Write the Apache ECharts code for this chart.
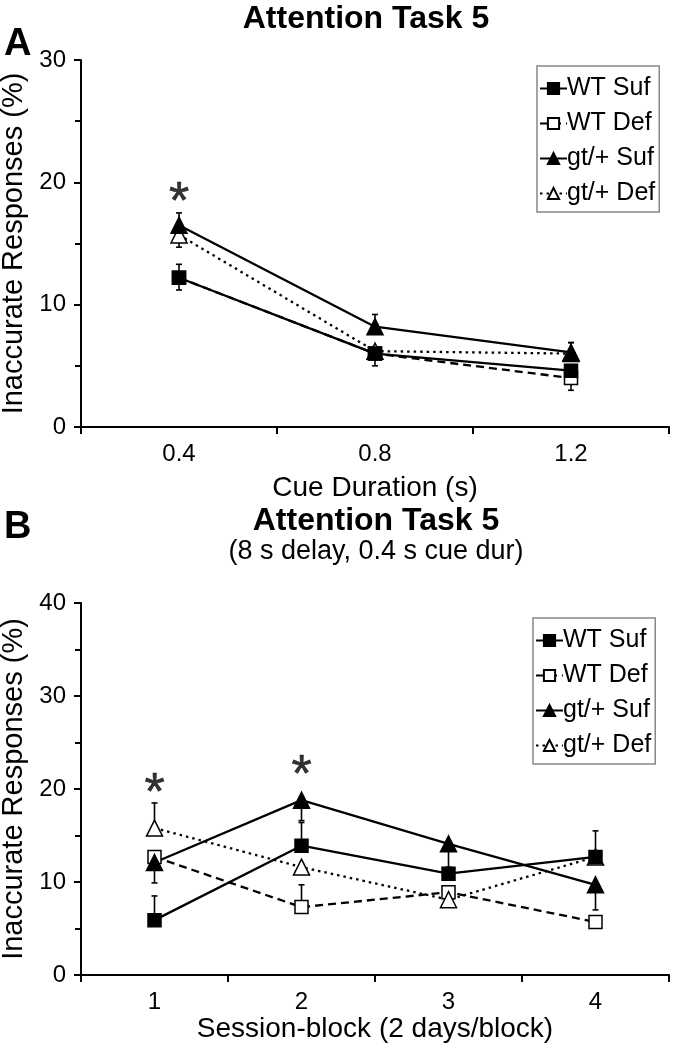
<!DOCTYPE html>
<html><head><meta charset="utf-8">
<script src="https://cdn.jsdelivr.net/npm/echarts@6/dist/echarts.min.js"></script>
<style>html,body{margin:0;padding:0;background:#fff}#c{width:673px;height:1050px}</style>
</head><body><div id="c"></div>
<script>
// ---------- data ----------
const catsA = ['0.4', '0.8', '1.2'];
const catsB = ['1', '2', '3', '4'];
const seriesNames = ['WT Suf', 'WT Def', 'gt/+ Suf', 'gt/+ Def'];

// Panel A values (%)
const aWTSuf = [12.2, 6.0, 4.6];
const aWTDef = [12.2, 6.0, 4.0];
const aGtSuf = [16.5, 8.2, 6.1];
const aGtDef = [15.7, 6.2, 6.0];
// Panel A error bars (upper, lower)
const aWTSufHi = [0, 0, 0],       aWTSufLo = [0, 0, 0];
const aWTDefHi = [1.1, 0, 0],     aWTDefLo = [1.0, 1.0, 1.0];
const aGtSufHi = [1.0, 1.0, 0.8], aGtSufLo = [0, 0, 0];
const aGtDefHi = [0, 0, 0.9],     aGtDefLo = [1.0, 0, 0];

// Panel B values (%)
const bWTSuf = [5.9, 13.9, 10.9, 12.7];
const bWTDef = [12.7, 7.3, 8.9, 5.7];
const bGtSuf = [12.1, 18.8, 14.1, 9.7];
const bGtDef = [15.8, 11.6, 8.1, 12.7];
// Panel B error bars (upper, lower)
const bWTSufHi = [2.6, 2.5, 0, 2.8], bWTSufLo = [0, 0, 0, 0];
const bWTDefHi = [0, 2.4, 0, 0],     bWTDefLo = [0, 0, 0, 0];
const bGtSufHi = [0, 0, 0, 0],       bGtSufLo = [2.2, 2.2, 2.5, 2.7];
const bGtDefHi = [2.7, 0, 0, 0],     bGtDefLo = [0, 0, 0, 0];

// significance markers [categoryIndex, y]
const starsA = [[0, 19.2]];
const starsB = [[0, 20.7], [1, 22.6]];

const yTicksA = [0, 30, 10];
const yTicksB = [0, 40, 10];

// ---------- styling ----------
const FONT = '"Liberation Sans", Arial, sans-serif';
const styles = {
  'WT Suf':   {symbol: 'rect', size: 13, fill: '#000', type: 'solid'},
  'WT Def':   {symbol: 'rect', size: 13, fill: '#fff', type: [8, 5]},
  'gt/+ Suf': {symbol: 'triangle', size: 16, fill: '#000', type: 'solid'},
  'gt/+ Def': {symbol: 'triangle', size: 16, fill: '#fff', type: [2.5, 4]}
};

function lineSeries(name, vals, axis) {
  const s = styles[name];
  return {
    name: name, type: 'line', xAxisIndex: axis, yAxisIndex: axis,
    data: vals, symbol: s.symbol, symbolSize: s.size, showAllSymbol: true,
    lineStyle: {color: '#000', width: 2.3, type: s.type},
    itemStyle: {color: s.fill, borderColor: '#000', borderWidth: 1.5},
    z: 3, animation: false
  };
}
function errSeries(vals, hi, lo, axis) {
  return {
    name: 'error', type: 'custom', xAxisIndex: axis, yAxisIndex: axis, z: 1,
    data: vals.map((v, i) => [i, v, hi[i], lo[i]]),
    encode: {x: 0, y: 1},
    silent: true, animation: false,
    renderItem: function (params, api) {
      const i = api.value(0), v = api.value(1), h = api.value(2), l = api.value(3);
      const c = api.coord([i, v]);
      const kids = [];
      const st = {stroke: '#000', lineWidth: 1.6};
      if (h > 0) {
        const t = api.coord([i, v + h]);
        kids.push({type: 'line', shape: {x1: c[0], y1: c[1], x2: t[0], y2: t[1]}, style: st});
        kids.push({type: 'line', shape: {x1: t[0] - 3, y1: t[1], x2: t[0] + 3, y2: t[1]}, style: st});
      }
      if (l > 0) {
        const b = api.coord([i, v - l]);
        kids.push({type: 'line', shape: {x1: c[0], y1: c[1], x2: b[0], y2: b[1]}, style: st});
        kids.push({type: 'line', shape: {x1: b[0] - 3, y1: b[1], x2: b[0] + 3, y2: b[1]}, style: st});
      }
      return {type: 'group', children: kids};
    }
  };
}
function starSeries(data, axis) {
  return {
    name: 'star', type: 'scatter', xAxisIndex: axis, yAxisIndex: axis, data: data,
    symbolSize: 1, itemStyle: {color: 'rgba(0,0,0,0)'}, silent: true, z: 4,
    label: {show: true, position: 'inside', formatter: '*', fontSize: 52, color: '#000',
            textBorderColor: '#000', textBorderWidth: 0.6,
            fontFamily: FONT, offset: [0, 12]},
    animation: false
  };
}

const axisText = {color: '#000', fontSize: 24, fontFamily: FONT};
function xAxis(cats, grid, name, nameGap) {
  return {
    type: 'category', gridIndex: grid, data: cats, boundaryGap: true,
    name: name, nameLocation: 'middle', nameGap: nameGap,
    nameTextStyle: {color: '#000', fontSize: 28, fontFamily: FONT},
    axisLine: {lineStyle: {color: '#000', width: 2}},
    axisTick: {show: true, length: 7, lineStyle: {color: '#000', width: 2}},
    axisLabel: Object.assign({margin: 15}, axisText),
    splitLine: {show: false}
  };
}
function yAxis(t, grid) {
  return {
    type: 'value', gridIndex: grid, min: t[0], max: t[1], interval: t[2],
    name: 'Inaccurate Responses (%)', nameLocation: 'middle', nameGap: 44, nameRotate: 90,
    nameTextStyle: {color: '#000', fontSize: 29, fontFamily: FONT},
    axisLine: {show: true, lineStyle: {color: '#000', width: 2}},
    axisTick: {show: true, length: 7, lineStyle: {color: '#000', width: 2}},
    minorTick: {show: true, splitNumber: 2, length: 6, lineStyle: {color: '#000', width: 2}},
    axisLabel: Object.assign({margin: 15}, axisText),
    splitLine: {show: false}
  };
}
function legend(top, left, right) {
  return {
    data: seriesNames, orient: 'vertical', top: top, left: left, width: right - left,
    itemWidth: 27, itemHeight: 14, itemGap: 10,
    textStyle: {color: '#000', fontSize: 25, lineHeight: 25, fontFamily: FONT, padding: [0, 0, 0, -5]},
    borderColor: '#888', borderWidth: 1.5, padding: [10, 4, 6, 2],
    backgroundColor: '#fff', selectedMode: false
  };
}

const series = [];
const A = [aWTSuf, aWTDef, aGtSuf, aGtDef];
const AHi = [aWTSufHi, aWTDefHi, aGtSufHi, aGtDefHi];
const ALo = [aWTSufLo, aWTDefLo, aGtSufLo, aGtDefLo];
const B = [bWTSuf, bWTDef, bGtSuf, bGtDef];
const BHi = [bWTSufHi, bWTDefHi, bGtSufHi, bGtDefHi];
const BLo = [bWTSufLo, bWTDefLo, bGtSufLo, bGtDefLo];
seriesNames.forEach((n, k) => {
  series.push(errSeries(A[k], AHi[k], ALo[k], 0));
  series.push(errSeries(B[k], BHi[k], BLo[k], 1));
});
[1, 3, 0, 2].forEach(k => {
  series.push(lineSeries(seriesNames[k], A[k], 0));
  series.push(lineSeries(seriesNames[k], B[k], 1));
});
series.push(starSeries(starsA, 0));
series.push(starSeries(starsB, 1));

const chart = echarts.init(document.getElementById('c'), null, {renderer: 'canvas'});
chart.setOption({
  backgroundColor: '#fff',
  animation: false,
  grid: [
    {left: 81, top: 60, width: 588, height: 367, containLabel: false, outerBoundsMode: 'none'},
    {left: 81, top: 603, width: 588, height: 372, containLabel: false, outerBoundsMode: 'none'}
  ],
  xAxis: [xAxis(catsA, 0, 'Cue Duration (s)', 47), xAxis(catsB, 1, 'Session-block (2 days/block)', 37)],
  yAxis: [yAxis(yTicksA, 0), yAxis(yTicksB, 1)],
  legend: [legend(66, 537, 662), legend(618, 533, 664)],
  graphic: [
    {type: 'text', x: 366, y: 19, style: {text: 'Attention Task 5', font: 'bold 32px ' + FONT, fill: '#000', textAlign: 'center', textVerticalAlign: 'middle'}},
    {type: 'text', x: 4, y: 45, style: {text: 'A', font: 'bold 38px ' + FONT, fill: '#000', textAlign: 'left', textVerticalAlign: 'middle'}},
    {type: 'text', x: 376, y: 521, style: {text: 'Attention Task 5', font: 'bold 32px ' + FONT, fill: '#000', textAlign: 'center', textVerticalAlign: 'middle'}},
    {type: 'text', x: 376, y: 552, style: {text: '(8 s delay, 0.4 s cue dur)', font: '27px ' + FONT, fill: '#000', textAlign: 'center', textVerticalAlign: 'middle'}},
    {type: 'text', x: 4, y: 528, style: {text: 'B', font: 'bold 38px ' + FONT, fill: '#000', textAlign: 'left', textVerticalAlign: 'middle'}}
  ],
  series: series
});
</script></body></html>
